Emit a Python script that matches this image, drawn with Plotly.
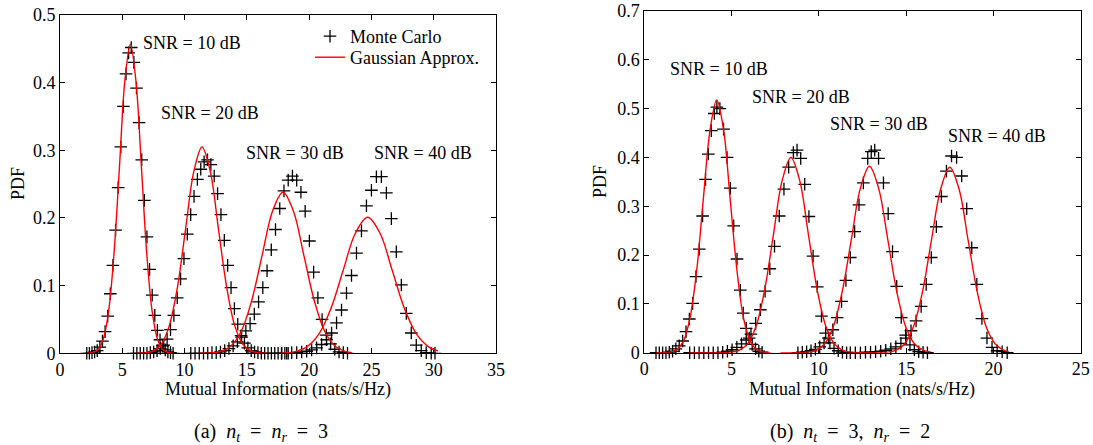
import plotly.graph_objects as go

# ---------------- data: (a) nt = nr = 3 ----------------
a_mc10_x = [2.15, 2.36, 2.57, 2.78, 2.99, 3.20, 3.41, 3.62, 3.83, 4.04, 4.25, 4.46, 4.67, 4.88, 5.09, 5.30, 5.51, 5.72,
            5.93, 6.14, 6.35, 6.56, 6.77, 6.98, 7.19, 7.40, 7.61, 7.82, 8.03, 8.24, 8.45, 8.66, 8.87, 9.08]
a_mc10_y = [0, 0, 0.001, 0.002, 0.004, 0.009, 0.018, 0.032, 0.055, 0.088, 0.13, 0.182, 0.245, 0.305, 0.365, 0.413, 0.444, 0.452,
            0.43, 0.392, 0.341, 0.286, 0.226, 0.172, 0.124, 0.086, 0.056, 0.034, 0.02, 0.011, 0.005, 0.002, 0.001, 0]

a_mc20_x = [5.90, 6.17, 6.44, 6.71, 6.98, 7.25, 7.52, 7.79, 8.06, 8.33, 8.60, 8.87, 9.14, 9.41, 9.68, 9.95, 10.22, 10.49,
            10.76, 11.03, 11.30, 11.57, 11.84, 12.11, 12.38, 12.65, 12.92, 13.19, 13.46, 13.73, 14.00, 14.27, 14.54,
            14.81, 15.08, 15.35, 15.62, 15.89, 16.16, 16.43, 16.70, 16.97, 17.24, 17.51, 17.78, 18.05, 18.32]
a_mc20_y = [0, 0, 0, 0, 0, 0.001, 0.002, 0.004, 0.007, 0.012, 0.021, 0.035, 0.056, 0.082, 0.11, 0.14, 0.176, 0.205,
            0.232, 0.257, 0.272, 0.283, 0.286, 0.279, 0.262, 0.236, 0.205, 0.167, 0.13, 0.097, 0.066, 0.043, 0.026,
            0.015, 0.008, 0.004, 0.002, 0.001, 0, 0, 0, 0, 0, 0, 0, 0, 0]

a_mc30_x = [10.50, 10.84, 11.18, 11.52, 11.86, 12.20, 12.54, 12.88, 13.22, 13.56, 13.90, 14.24, 14.58, 14.92, 15.26,
            15.60, 15.94, 16.28, 16.62, 16.96, 17.30, 17.64, 17.98, 18.32, 18.66, 19.00, 19.34, 19.68, 20.02, 20.36,
            20.70, 21.04, 21.38, 21.72, 22.06, 22.40, 22.74, 23.08]
a_mc30_y = [0, 0, 0, 0, 0, 0.001, 0.001, 0.002, 0.004, 0.007, 0.011, 0.017, 0.024, 0.033, 0.044,
            0.058, 0.076, 0.097, 0.122, 0.153, 0.183, 0.214, 0.24, 0.256, 0.262, 0.256, 0.238, 0.21, 0.166, 0.12,
            0.082, 0.05, 0.027, 0.014, 0.006, 0.002, 0.001, 0]

a_mc40_x = [17.8, 18.2, 18.6, 19.0, 19.4, 19.8, 20.2, 20.6, 21.0, 21.4, 21.8, 22.2, 22.6, 23.0, 23.4, 23.8, 24.2,
            24.6, 25.0, 25.4, 25.8, 26.2, 26.6, 27.0, 27.4, 27.8, 28.2, 28.6, 29.0, 29.4, 29.8, 30.1]
a_mc40_y = [0, 0, 0.001, 0.001, 0.002, 0.003, 0.005, 0.008, 0.013, 0.02, 0.03, 0.045, 0.064, 0.089, 0.115, 0.148, 0.181,
            0.218, 0.241, 0.261, 0.261, 0.237, 0.199, 0.15, 0.101, 0.059, 0.03, 0.012, 0.004, 0.001, 0, 0]

a_g10_x = [2.15, 2.59, 3.03, 3.46, 3.90, 4.34, 4.78, 5.21, 5.65, 6.09, 6.53, 6.96, 7.40, 7.84, 8.28, 8.71, 9.15]
a_g10_y = [0.0001, 0.001, 0.0051, 0.0201, 0.0618, 0.1484, 0.2772, 0.4033, 0.457, 0.4033, 0.2772, 0.1484, 0.0618,
           0.0201, 0.0051, 0.001, 0.0001]

a_g20_x = [6.16, 6.82, 7.47, 8.13, 8.78, 9.44, 10.09, 10.75, 11.40, 12.06, 12.71, 13.37, 14.02, 14.68, 15.33, 15.99, 16.64]
a_g20_y = [0.0001, 0.0007, 0.0034, 0.0134, 0.0413, 0.099, 0.185, 0.2692, 0.305, 0.2692, 0.185, 0.099, 0.0413,
           0.0134, 0.0034, 0.0007, 0.0001]

a_g30_x = [11.18, 12.02, 12.86, 13.70, 14.54, 15.38, 16.22, 17.06, 17.90, 18.74, 19.58, 20.42, 21.26, 22.10, 22.94, 23.44]
a_g30_y = [0.0001, 0.0005, 0.0026, 0.0104, 0.0322, 0.0773, 0.1443, 0.21, 0.238, 0.21, 0.1443, 0.0773, 0.0322,
           0.0104, 0.0026, 0.001]

a_g40_x = [17.77, 18.76, 19.75, 20.74, 21.73, 22.72, 23.71, 24.70, 25.69, 26.68, 27.67, 28.66, 29.65, 30.34]
a_g40_y = [0.0004, 0.0022, 0.0088, 0.0272, 0.0653, 0.1219, 0.1774, 0.201, 0.1774, 0.1219, 0.0653, 0.0272, 0.0088, 0.0035]

# ---------------- data: (b) nt = 3, nr = 2 ----------------
b_mc10_x = [0.67, 0.86, 1.05, 1.24, 1.43, 1.62, 1.81, 2.00, 2.20, 2.39, 2.58, 2.77, 2.96, 3.15, 3.34, 3.51, 3.67, 3.84,
            4.01, 4.16, 4.33, 4.54, 4.74, 4.93, 5.12, 5.31, 5.50, 5.67, 5.84, 6.01, 6.18, 6.37, 6.56, 6.75]
b_mc10_y = [0, 0, 0, 0, 0.001, 0.003, 0.008, 0.014, 0.024, 0.043, 0.069, 0.101, 0.156, 0.212, 0.28, 0.355, 0.407, 0.455,
            0.49, 0.503, 0.5, 0.458, 0.4, 0.337, 0.26, 0.192, 0.128, 0.081, 0.05, 0.03, 0.017, 0.008, 0.003, 0.001]

b_mc20_x = [2.60, 2.87, 3.14, 3.41, 3.68, 3.95, 4.22, 4.49, 4.76, 5.03, 5.30, 5.57, 5.84, 6.11, 6.38, 6.65, 6.92, 7.19,
            7.46, 7.73, 8.00, 8.27, 8.54, 8.75, 8.96, 9.19, 9.43, 9.67, 9.91, 10.15, 10.39, 10.63, 10.87, 11.11,
            11.35, 11.59]
b_mc20_y = [0, 0, 0, 0, 0, 0, 0, 0.001, 0.003, 0.006, 0.011, 0.018, 0.026, 0.038, 0.06, 0.088, 0.126, 0.172,
            0.218, 0.28, 0.335, 0.38, 0.41, 0.415, 0.398, 0.345, 0.279, 0.198, 0.135, 0.075, 0.04, 0.02, 0.009, 0.004,
            0.001, 0]

b_mc30_x = [8.80, 9.05, 9.30, 9.55, 9.80, 10.05, 10.30, 10.55, 10.80, 11.05, 11.30, 11.55, 11.80, 12.05, 12.30, 12.55,
            12.80, 13.00, 13.20, 13.42, 13.70, 13.97, 14.22, 14.46, 14.72, 14.97, 15.22, 15.47, 15.72, 15.97, 16.22]
b_mc30_y = [0, 0.001, 0.002, 0.004, 0.007, 0.012, 0.02, 0.03, 0.047, 0.072, 0.105, 0.148, 0.195, 0.248, 0.303, 0.348,
            0.398, 0.412, 0.415, 0.398, 0.348, 0.285, 0.207, 0.136, 0.072, 0.036, 0.016, 0.006, 0.002, 0.001, 0]

b_mc40_x = [11.80, 12.09, 12.38, 12.67, 12.96, 13.25, 13.54, 13.83, 14.12, 14.41, 14.70, 14.99, 15.28, 15.57, 15.86,
            16.15, 16.44, 16.73, 17.02, 17.31, 17.60, 17.89, 18.18, 18.47, 18.76, 19.05, 19.34, 19.63, 19.92, 20.21,
            20.50, 20.79]
b_mc40_y = [0, 0, 0, 0.001, 0.001, 0.002, 0.003, 0.005, 0.008, 0.012, 0.019, 0.03, 0.045, 0.065, 0.095,
            0.14, 0.195, 0.258, 0.32, 0.372, 0.403, 0.4, 0.362, 0.295, 0.215, 0.14, 0.07, 0.03, 0.011, 0.004,
            0.002, 0]

b_g10_x = [0.69, 1.07, 1.46, 1.84, 2.23, 2.61, 3.00, 3.38, 3.77, 4.15, 4.54, 4.92, 5.31, 5.69, 6.08, 6.46, 6.85, 7.23]
b_g10_y = [0, 0.0002, 0.0011, 0.0058, 0.0227, 0.0701, 0.1682, 0.3142, 0.4571, 0.518, 0.4571, 0.3142, 0.1682, 0.0701,
           0.0227, 0.0058, 0.0011, 0.0002]

b_g20_x = [2.6, 4.4, 4.9, 5.4, 5.9, 6.4, 6.9, 7.4, 7.9, 8.4, 8.9, 9.4, 9.9, 10.4, 10.9, 11.4, 11.9, 12.4]
b_g20_y = [0, 0.0001, 0.0009, 0.0044, 0.0176, 0.0541, 0.1299, 0.2426, 0.353, 0.4, 0.353, 0.2426, 0.1299, 0.0541,
           0.0176, 0.0044, 0.0009, 0.0001]

b_g30_x = [7.8, 8.72, 9.24, 9.77, 10.29, 10.81, 11.33, 11.86, 12.38, 12.90, 13.42, 13.95, 14.47, 14.99, 15.51, 16.04, 16.40]
b_g30_y = [0, 0.0001, 0.0008, 0.0042, 0.0168, 0.0517, 0.124, 0.2317, 0.3371, 0.382, 0.3371, 0.2317, 0.124, 0.0517,
           0.0168, 0.0042, 0.0014]

b_g40_x = [12.2, 13.30, 13.83, 14.35, 14.88, 15.40, 15.93, 16.45, 16.98, 17.50, 18.03, 18.55, 19.08, 19.60, 20.13, 20.65, 20.86]
b_g40_y = [0, 0.0001, 0.0008, 0.0042, 0.0167, 0.0514, 0.1234, 0.2305, 0.3354, 0.38, 0.3354, 0.2305, 0.1234, 0.0514,
           0.0167, 0.0042, 0.0023]

snr_labels = ["SNR = 10 dB", "SNR = 20 dB", "SNR = 30 dB", "SNR = 40 dB"]
a_label_x = [10.6, 12.07, 18.83, 29.1]
a_label_y = [0.459, 0.355, 0.296, 0.296]
b_label_x = [4.28, 9.0, 13.47, 20.2]
b_label_y = [0.581, 0.524, 0.4686, 0.444]

FONT = "Liberation Serif"
fig = go.Figure()

mc_sets = [("x", "y", [(a_mc10_x, a_mc10_y), (a_mc20_x, a_mc20_y), (a_mc30_x, a_mc30_y), (a_mc40_x, a_mc40_y)]),
           ("x2", "y2", [(b_mc10_x, b_mc10_y), (b_mc20_x, b_mc20_y), (b_mc30_x, b_mc30_y), (b_mc40_x, b_mc40_y)])]
g_sets = [("x", "y", [(a_g10_x, a_g10_y), (a_g20_x, a_g20_y), (a_g30_x, a_g30_y), (a_g40_x, a_g40_y)]),
          ("x2", "y2", [(b_g10_x, b_g10_y), (b_g20_x, b_g20_y), (b_g30_x, b_g30_y), (b_g40_x, b_g40_y)])]

first = True
for xa, ya, series in mc_sets:
    for xs, ys in series:
        fig.add_trace(go.Scatter(
            x=xs, y=ys, xaxis=xa, yaxis=ya, mode="markers", name="Monte Carlo",
            showlegend=first, legend="legend", cliponaxis=False,
            marker=dict(symbol="cross-thin", size=9, color="black", line=dict(color="black", width=1.3))))
        first = False
first = True
for xa, ya, series in g_sets:
    for xs, ys in series:
        fig.add_trace(go.Scatter(
            x=xs, y=ys, xaxis=xa, yaxis=ya, mode="lines", name="Gaussian Approx.",
            showlegend=first, legend="legend2",
            line=dict(color="red", width=1.4, shape="spline", smoothing=1.0)))
        first = False

axis_common = dict(showline=True, linecolor="black", linewidth=1, mirror="allticks", ticks="inside",
                   ticklen=5, tickcolor="black", tickwidth=1, showgrid=False, zeroline=False, automargin=False,
                   tickfont=dict(family=FONT, size=18, color="black"), layer="below traces")

annotations = []
for t, x, y in zip(snr_labels, a_label_x, a_label_y):
    annotations.append(dict(text=t, x=x, y=y, xref="x", yref="y", showarrow=False,
                            xanchor="center", yanchor="middle",
                            font=dict(family=FONT, size=18, color="black")))
for t, x, y in zip(snr_labels, b_label_x, b_label_y):
    annotations.append(dict(text=t, x=x, y=y, xref="x2", yref="y2", showarrow=False,
                            xanchor="center", yanchor="middle",
                            font=dict(family=FONT, size=18, color="black")))

W, H = 1093, 445
def px(x):
    return x / W
def py(y):
    return 1 - y / H

cap_a = "(a)&nbsp;&nbsp;<i>n</i><sub><i>t</i></sub>&nbsp;&nbsp;=&nbsp;&nbsp;<i>n</i><sub><i>r</i></sub>&nbsp;&nbsp;=&nbsp;&nbsp;3"
cap_b = ("(b)&nbsp;&nbsp;<i>n</i><sub><i>t</i></sub>&nbsp;&nbsp;=&nbsp;&nbsp;3,&nbsp;&nbsp;"
         "<i>n</i><sub><i>r</i></sub>&nbsp;&nbsp;=&nbsp;&nbsp;2")
paper_txt = [
    ("PDF", 18, 184, -90, 18),
    ("PDF", 600, 182, -90, 18),
    ("Mutual Information (nats/s/Hz)", 278, 389, 0, 18),
    ("Mutual Information (nats/s/Hz)", 862, 389, 0, 18),
    (cap_a, 261, 432, 0, 20),
    (cap_b, 850, 432, 0, 20),
]
for t, x, y, ang, fs in paper_txt:
    annotations.append(dict(text=t, x=px(x), y=py(y), xref="paper", yref="paper", showarrow=False,
                            textangle=ang, xanchor="center", yanchor="middle",
                            font=dict(family=FONT, size=fs, color="black")))

leg_common = dict(xanchor="left", yanchor="top", bgcolor="rgba(0,0,0,0)",
                  font=dict(family=FONT, size=18, color="black"), itemwidth=30)

fig.update_layout(
    width=W, height=H, margin=dict(l=0, r=0, t=0, b=0, autoexpand=False),
    paper_bgcolor="white", plot_bgcolor="white",
    font=dict(family=FONT, size=18, color="black"),
    xaxis=dict(domain=[px(60), px(496)], range=[0, 35], dtick=5, anchor="y", **axis_common),
    yaxis=dict(domain=[py(353.3), py(15)], range=[0, 0.5], dtick=0.1, anchor="x", **axis_common),
    xaxis2=dict(domain=[px(644.3), px(1080.7)], range=[0, 25], dtick=5, anchor="y2", **axis_common),
    yaxis2=dict(domain=[py(352.7), py(11)], range=[0, 0.7], dtick=0.1, anchor="x2", **axis_common),
    legend=dict(x=px(310), y=py(18), **leg_common),
    legend2=dict(x=px(310), y=py(39), **leg_common),
    annotations=annotations,
    showlegend=True,
)

fig.write_html("out.html")
